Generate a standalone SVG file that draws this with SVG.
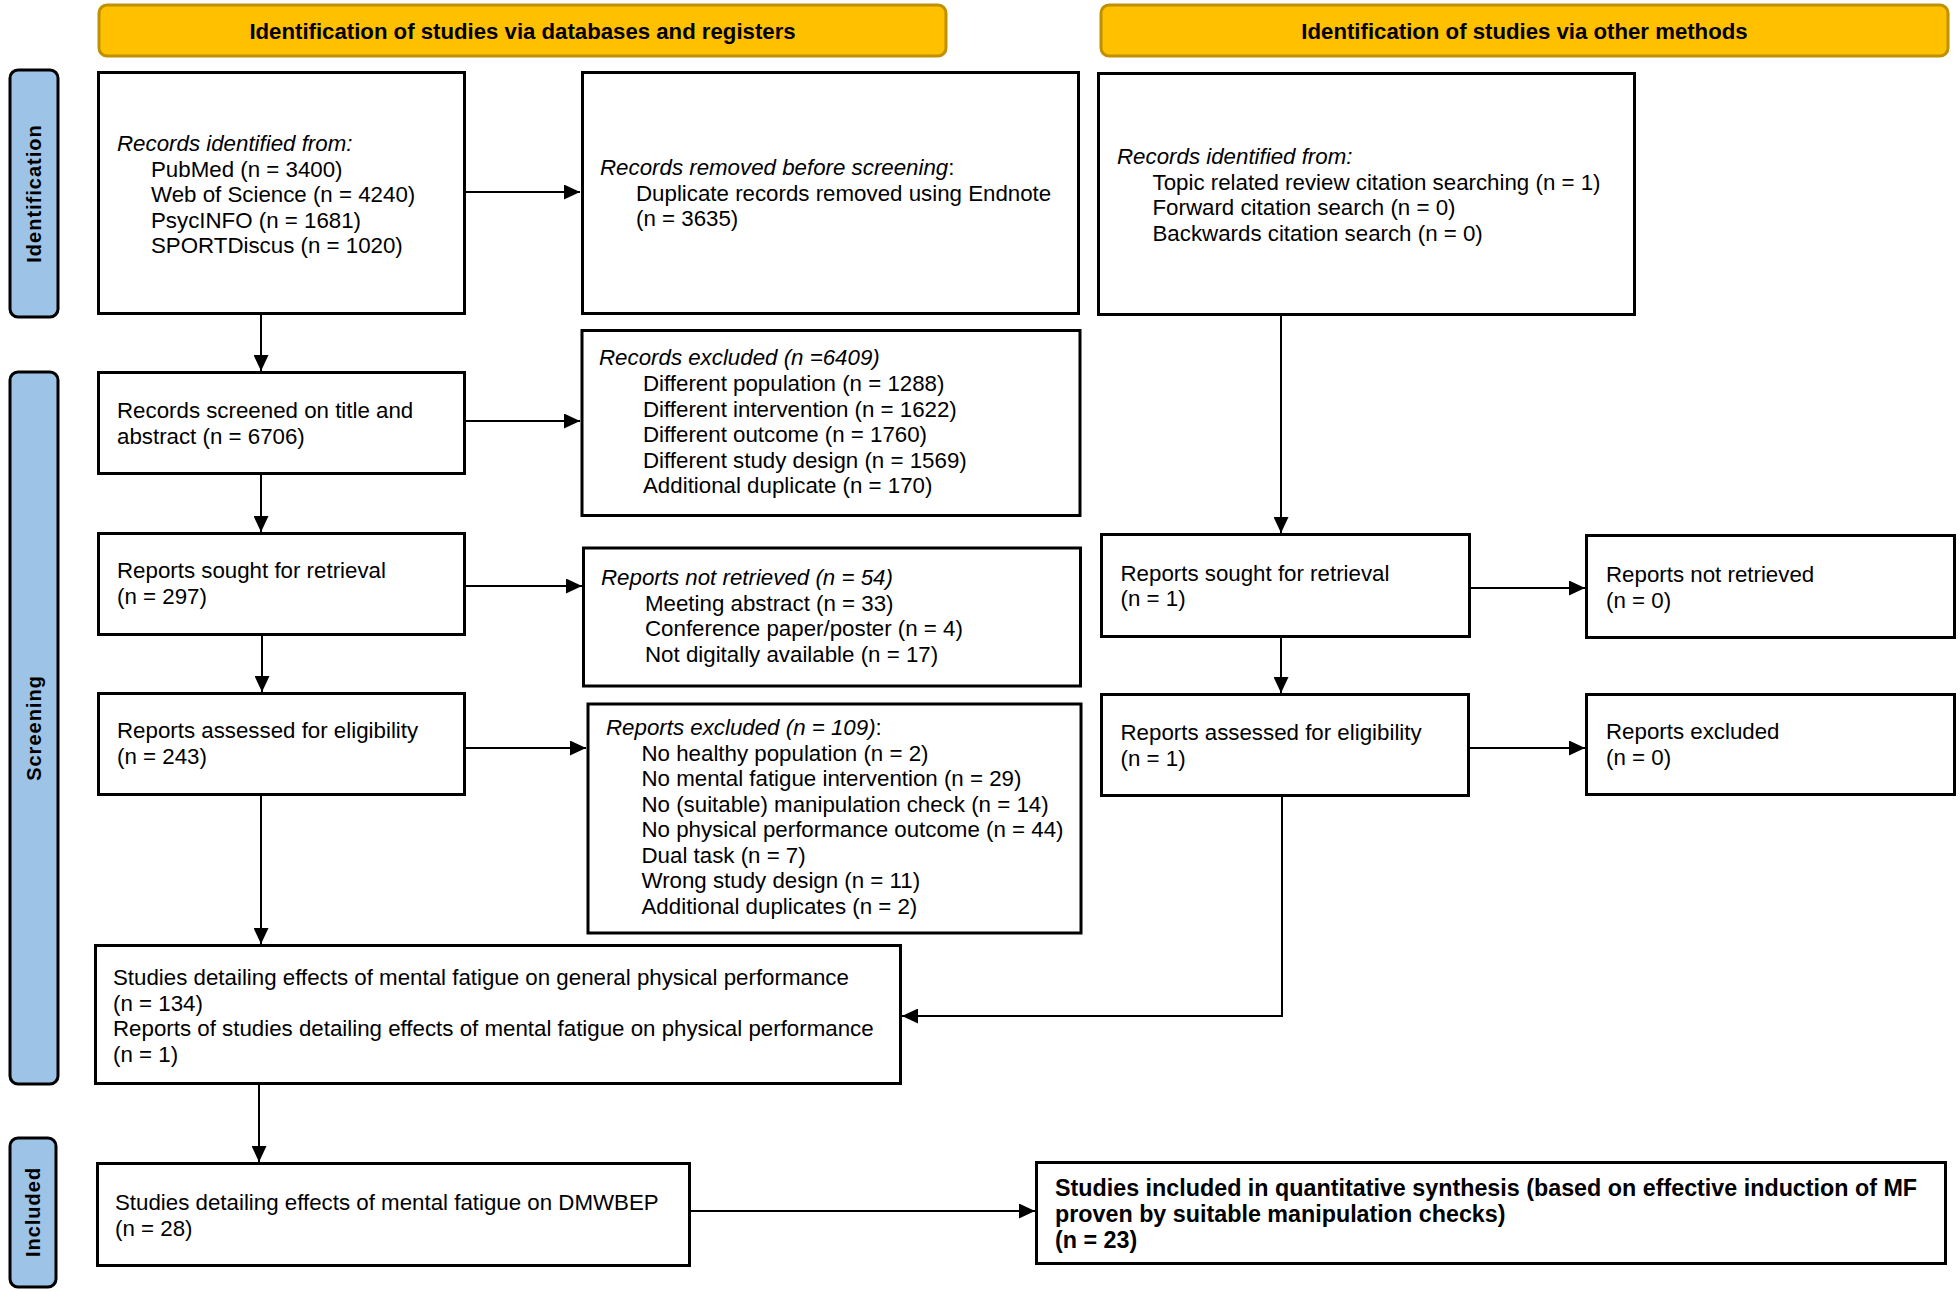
<svg xmlns="http://www.w3.org/2000/svg" width="1960" height="1292" viewBox="0 0 1960 1292">
<style>
.box{fill:#fff;stroke:#000;stroke-width:3}
.hdr{fill:#FFC000;stroke:#BF9000;stroke-width:3}
.side{fill:#9DC3E6;stroke:#000;stroke-width:3}
.t{font-family:"Liberation Sans",Arial,sans-serif;font-size:22.3px;fill:#000}
.it{font-style:italic}
.b{font-weight:bold;font-size:23.3px}
.ht{font-family:"Liberation Sans",Arial,sans-serif;font-size:22.2px;font-weight:bold;fill:#000;text-anchor:middle}
.st{font-family:"Liberation Sans",Arial,sans-serif;font-size:20px;font-weight:bold;fill:#000;text-anchor:middle;letter-spacing:1px}
.c{fill:none;stroke:#000;stroke-width:2}
</style>
<defs>
<marker id="ah" markerUnits="userSpaceOnUse" markerWidth="16" markerHeight="15" refX="16" refY="7.5" orient="auto">
<path d="M0,0 L16,7.5 L0,15 z" fill="#000"/>
</marker>
</defs>

<g id="header-databases"><rect class="hdr" x="99" y="5" width="847" height="51" rx="8"/><text class="ht" x="522.5" y="39">Identification of studies via databases and registers</text></g>
<g id="header-other"><rect class="hdr" x="1101" y="5" width="847" height="51" rx="8"/><text class="ht" x="1524.5" y="39">Identification of studies via other methods</text></g>

<g id="label-identification"><rect class="side" x="10" y="70" width="48" height="247" rx="8"/><text class="st" transform="translate(41,193.5) rotate(-90)">Identification</text></g>
<g id="label-screening"><rect class="side" x="10" y="372" width="48" height="712" rx="8"/><text class="st" transform="translate(41,728) rotate(-90)">Screening</text></g>
<g id="label-included"><rect class="side" x="10" y="1138" width="46" height="149" rx="8"/><text class="st" transform="translate(40,1212) rotate(-90)">Included</text></g>

<g id="box-records-identified"><rect class="box" x="98.5" y="72.5" width="366" height="241"/>
<text class="t"><tspan class="it" x="117" y="151">Records identified from:</tspan><tspan x="151" y="176.5">PubMed (n = 3400)</tspan><tspan x="151" y="202">Web of Science (n = 4240)</tspan><tspan x="151" y="227.5">PsycINFO (n = 1681)</tspan><tspan x="151" y="253">SPORTDiscus (n = 1020)</tspan></text></g>

<g id="box-records-removed"><rect class="box" x="582.5" y="72.5" width="496" height="241"/>
<text class="t"><tspan class="it" x="600" y="175">Records removed before screening</tspan><tspan>:</tspan><tspan x="636" y="200.5">Duplicate records removed using Endnote</tspan><tspan x="636" y="226">(n = 3635)</tspan></text></g>

<g id="box-other-identified"><rect class="box" x="1098.5" y="73.5" width="536" height="241"/>
<text class="t"><tspan class="it" x="1117" y="164">Records identified from:</tspan><tspan x="1152.5" y="189.5">Topic related review citation searching (n = 1)</tspan><tspan x="1152.5" y="215">Forward citation search (n = 0)</tspan><tspan x="1152.5" y="240.5">Backwards citation search (n = 0)</tspan></text></g>

<g id="box-screened"><rect class="box" x="98.5" y="372.5" width="366" height="101"/>
<text class="t"><tspan x="117" y="418">Records screened on title and</tspan><tspan x="117" y="443.5">abstract (n = 6706)</tspan></text></g>

<g id="box-records-excluded"><rect class="box" x="582" y="330.5" width="498" height="185"/>
<text class="t"><tspan class="it" x="599" y="365">Records excluded (n =6409)</tspan><tspan x="643" y="391">Different population (n = 1288)</tspan><tspan x="643" y="416.5">Different intervention (n = 1622)</tspan><tspan x="643" y="442">Different outcome (n = 1760)</tspan><tspan x="643" y="467.5">Different study design (n = 1569)</tspan><tspan x="643" y="493">Additional duplicate (n = 170)</tspan></text></g>

<g id="box-sought"><rect class="box" x="98.5" y="533.5" width="366" height="101"/>
<text class="t"><tspan x="117" y="578">Reports sought for retrieval</tspan><tspan x="117" y="603.5">(n = 297)</tspan></text></g>

<g id="box-not-retrieved"><rect class="box" x="583.5" y="548" width="497" height="138"/>
<text class="t"><tspan class="it" x="601" y="585">Reports not retrieved (n = 54)</tspan><tspan x="645" y="610.5">Meeting abstract (n = 33)</tspan><tspan x="645" y="636">Conference paper/poster (n = 4)</tspan><tspan x="645" y="661.5">Not digitally available (n = 17)</tspan></text></g>

<g id="box-assessed"><rect class="box" x="98.5" y="693.5" width="366" height="101"/>
<text class="t"><tspan x="117" y="738">Reports assessed for eligibility</tspan><tspan x="117" y="763.5">(n = 243)</tspan></text></g>

<g id="box-reports-excluded"><rect class="box" x="588" y="704" width="493" height="229"/>
<text class="t"><tspan class="it" x="606" y="735">Reports excluded (n = 109)</tspan><tspan>:</tspan><tspan x="641.5" y="760.5">No healthy population (n = 2)</tspan><tspan x="641.5" y="786">No mental fatigue intervention (n = 29)</tspan><tspan x="641.5" y="811.5">No (suitable) manipulation check (n = 14)</tspan><tspan x="641.5" y="837">No physical performance outcome (n = 44)</tspan><tspan x="641.5" y="862.5">Dual task (n = 7)</tspan><tspan x="641.5" y="888">Wrong study design (n = 11)</tspan><tspan x="641.5" y="913.5">Additional duplicates (n = 2)</tspan></text></g>

<g id="box-general"><rect class="box" x="95.5" y="945.5" width="805" height="138"/>
<text class="t"><tspan x="113" y="985">Studies detailing effects of mental fatigue on general physical performance</tspan><tspan x="113" y="1010.5">(n = 134)</tspan><tspan x="113" y="1036">Reports of studies detailing effects of mental fatigue on physical performance</tspan><tspan x="113" y="1061.5">(n = 1)</tspan></text></g>

<g id="box-other-sought"><rect class="box" x="1101.5" y="534.5" width="368" height="102"/>
<text class="t"><tspan x="1120.5" y="580.5">Reports sought for retrieval</tspan><tspan x="1120.5" y="606">(n = 1)</tspan></text></g>

<g id="box-other-not-retrieved"><rect class="box" x="1586.5" y="535.5" width="368" height="102"/>
<text class="t"><tspan x="1606" y="582">Reports not retrieved</tspan><tspan x="1606" y="607.5">(n = 0)</tspan></text></g>

<g id="box-other-assessed"><rect class="box" x="1101.5" y="694.5" width="367" height="101"/>
<text class="t"><tspan x="1120.5" y="740">Reports assessed for eligibility</tspan><tspan x="1120.5" y="765.5">(n = 1)</tspan></text></g>

<g id="box-other-excluded"><rect class="box" x="1586.5" y="694.5" width="368" height="100"/>
<text class="t"><tspan x="1606" y="739">Reports excluded</tspan><tspan x="1606" y="764.5">(n = 0)</tspan></text></g>

<g id="box-dmwbep"><rect class="box" x="97.5" y="1163.5" width="592" height="102"/>
<text class="t"><tspan x="115" y="1210">Studies detailing effects of mental fatigue on DMWBEP</tspan><tspan x="115" y="1235.5">(n = 28)</tspan></text></g>

<g id="box-quantitative"><rect class="box" x="1036.5" y="1162.5" width="909" height="101"/>
<text class="t b"><tspan x="1055" y="1196">Studies included in quantitative synthesis (based on effective induction of MF</tspan><tspan x="1055" y="1222">proven by suitable manipulation checks)</tspan><tspan x="1055" y="1248">(n = 23)</tspan></text></g>

<g id="connectors">
<line class="c" x1="466" y1="192" x2="580" y2="192" marker-end="url(#ah)"/>
<line class="c" x1="261" y1="315" x2="261" y2="371" marker-end="url(#ah)"/>
<line class="c" x1="466" y1="421" x2="580" y2="421" marker-end="url(#ah)"/>
<line class="c" x1="261" y1="475" x2="261" y2="532" marker-end="url(#ah)"/>
<line class="c" x1="466" y1="586" x2="582" y2="586" marker-end="url(#ah)"/>
<line class="c" x1="262" y1="636" x2="262" y2="692" marker-end="url(#ah)"/>
<line class="c" x1="466" y1="748" x2="586" y2="748" marker-end="url(#ah)"/>
<line class="c" x1="261" y1="796" x2="261" y2="944" marker-end="url(#ah)"/>
<line class="c" x1="1281" y1="316" x2="1281" y2="533" marker-end="url(#ah)"/>
<line class="c" x1="1471" y1="588" x2="1585" y2="588" marker-end="url(#ah)"/>
<line class="c" x1="1281" y1="638" x2="1281" y2="693" marker-end="url(#ah)"/>
<line class="c" x1="1470" y1="748" x2="1585" y2="748" marker-end="url(#ah)"/>
<path class="c" d="M1282,797 V1016 H902" marker-end="url(#ah)"/>
<line class="c" x1="259" y1="1085" x2="259" y2="1162" marker-end="url(#ah)"/>
<line class="c" x1="691" y1="1211" x2="1035" y2="1211" marker-end="url(#ah)"/>
</g>
</svg>
